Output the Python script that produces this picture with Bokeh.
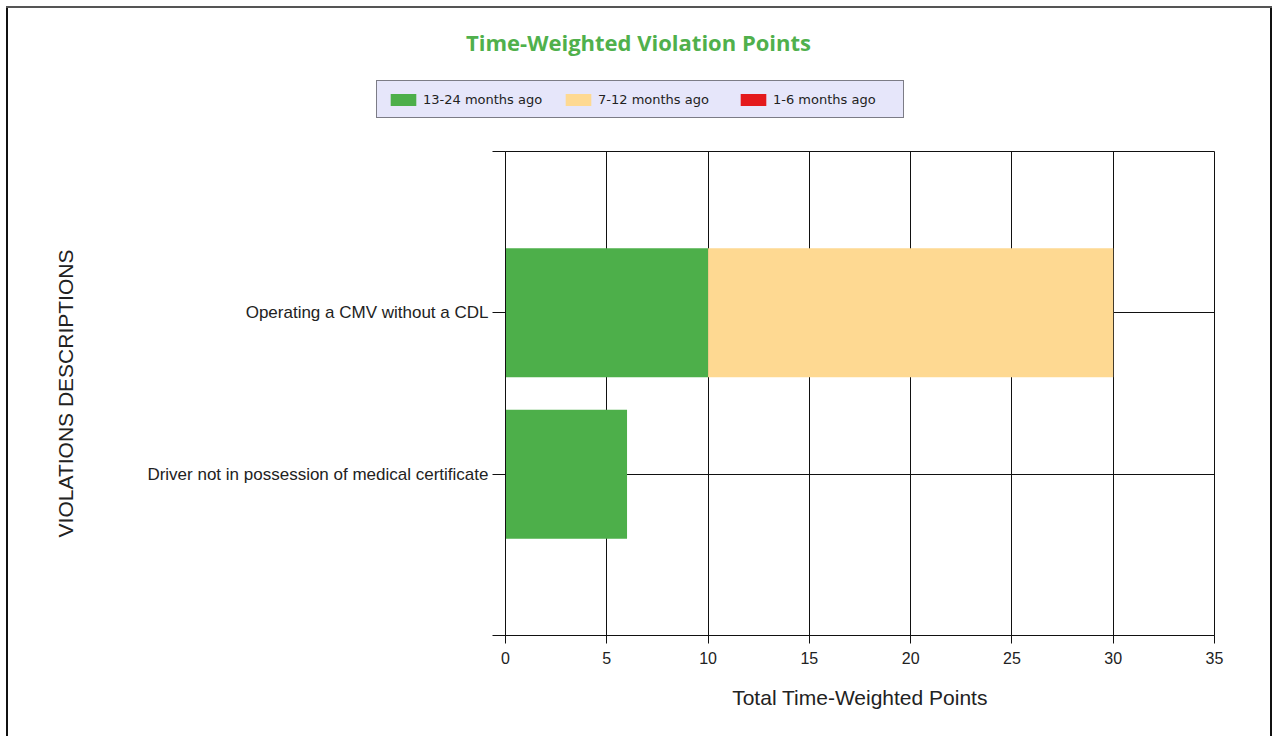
from bokeh.plotting import figure
from bokeh.layouts import column
from bokeh.models import ColumnDataSource, FixedTicker, Legend, LegendItem, Label, Range1d
from bokeh.embed import file_html
from bokeh.resources import INLINE

# ---- data ----
categories = ["Driver not in possession of medical certificate",
              "Operating a CMV without a CDL"]
months_13_24 = [6, 10]
months_7_12 = [0, 20]
months_1_6 = [0, 0]
series_keys = ["m13_24", "m7_12", "m1_6"]
series_names = ["13-24 months ago", "7-12 months ago", "1-6 months ago"]
series_colors = ["#4DAF4A", "#FED992", "#E41A1C"]
x_ticks = [0, 5, 10, 15, 20, 25, 30, 35]
title_text = "Time-Weighted Violation Points"
x_label = "Total Time-Weighted Points"
y_label = "VIOLATIONS DESCRIPTIONS"

W = 1274
TOP_H = 141
MAIN_H = 595

positions = [i + 1 for i in range(len(categories))]
source = ColumnDataSource(dict(y=positions, m13_24=months_13_24,
                               m7_12=months_7_12, m1_6=months_1_6))

# ---------------- header figure (title + legend) ----------------
head = figure(width=W, height=TOP_H, output_backend="svg", toolbar_location=None,
              x_axis_type=None, y_axis_type=None,
              x_range=Range1d(0, 1), y_range=Range1d(100, 101),
              min_border=0)
if hasattr(head, "frame_align"):
    head.frame_align = False
head.grid.visible = False
head.outline_line_color = None
head.border_fill_color = None
head.background_fill_color = None
head.styles = {
    "background-color": "white",
    "background-image": "linear-gradient(#555,#555), linear-gradient(#111,#111), linear-gradient(#111,#111)",
    "background-size": "1266px 2px, 2px 200px, 2px 200px",
    "background-position": "6px 6px, 6px 6px, 1270px 6px",
    "background-repeat": "no-repeat",
}

# the same stacked series, out of this header's view, feed the legend swatches
swatches = head.hbar_stack(series_keys, y="y", height=0.8, color=series_colors,
                           line_color=None, source=source)
lg = Legend(items=[LegendItem(label=n, renderers=[r])
                   for n, r in zip(series_names, swatches)])
lg.orientation = "horizontal"
lg.location = (376, 23)
lg.background_fill_color = "#E6E6FA"
lg.background_fill_alpha = 1
lg.border_line_color = "#111111"
lg.border_line_width = 1
lg.glyph_width = 32
lg.glyph_height = 15
lg.label_height = 16
lg.label_width = 120
lg.label_standoff = 4
lg.spacing = 19
lg.padding = 10
lg.margin = 0
lg.label_text_font = "DejaVu Sans"
lg.label_text_font_size = "13px"
lg.label_text_color = "#222222"
head.add_layout(lg, "center")

title = Label(x=638, y=100, x_units="screen", y_units="screen", text=title_text,
              text_align="center", text_baseline="middle",
              text_font="Open Sans", text_font_style="bold",
              text_font_size="22px", text_color="#50B04C")
head.add_layout(title)

# ---------------- main chart ----------------
p = figure(width=W, height=MAIN_H, output_backend="svg", toolbar_location=None,
           x_range=(x_ticks[0], x_ticks[-1]), y_range=(0, len(categories) + 1),
           min_border_left=505, min_border_right=60,
           min_border_top=10, min_border_bottom=101)
if hasattr(p, "frame_align"):
    p.frame_align = False
p.styles = {
    "background-color": "white",
    "background-image": "linear-gradient(#111,#111), linear-gradient(#111,#111)",
    "background-size": "2px 800px, 2px 800px",
    "background-position": "6px 0px, 1270px 0px",
    "background-repeat": "no-repeat",
}
p.border_fill_color = None
p.background_fill_color = "white"

p.hbar_stack(series_keys, y="y", height=0.8, color=series_colors,
             line_color=None, source=source)

# grids
p.xgrid.ticker = FixedTicker(ticks=x_ticks)
p.ygrid.ticker = FixedTicker(ticks=[0] + positions + [len(categories) + 1])
for g in (p.xgrid, p.ygrid):
    g.grid_line_color = "#111111"
    g.grid_line_width = 1
p.outline_line_color = "#111111"

# x axis
xa = p.xaxis[0]
xa.ticker = FixedTicker(ticks=x_ticks)
xa.axis_line_color = "#111111"
xa.major_tick_line_color = "#111111"
xa.major_tick_out = 8
xa.major_tick_in = 0
xa.minor_tick_line_color = None
xa.major_label_standoff = 8
xa.major_label_text_font = "Liberation Sans"
xa.major_label_text_font_size = "16px"
xa.major_label_text_color = "#222222"
xa.axis_label = x_label
xa.axis_label_text_font = "Liberation Sans"
xa.axis_label_text_font_size = "21px"
xa.axis_label_text_font_style = "normal"
xa.axis_label_text_color = "#222222"
xa.axis_label_standoff = 19

# y axis
ya = p.yaxis[0]
ya.ticker = FixedTicker(ticks=[0] + positions + [len(categories) + 1])
overrides = {0: "", len(categories) + 1: ""}
for pos, cat in zip(positions, categories):
    overrides[pos] = cat
ya.major_label_overrides = overrides
ya.axis_line_color = "#111111"
ya.major_tick_line_color = "#111111"
ya.major_tick_out = 13
ya.major_tick_in = 0
ya.minor_tick_line_color = None
ya.major_label_standoff = 4
ya.major_label_text_font = "Liberation Sans"
ya.major_label_text_font_size = "17px"
ya.major_label_text_color = "#222222"
ya.axis_label = y_label
ya.axis_label_text_font = "Liberation Sans"
ya.axis_label_text_font_size = "21px"
ya.axis_label_text_font_style = "normal"
ya.axis_label_text_color = "#222222"
ya.axis_label_standoff = 67

layout = column(head, p, spacing=0)
open("out.html", "w").write(file_html(layout, INLINE))
